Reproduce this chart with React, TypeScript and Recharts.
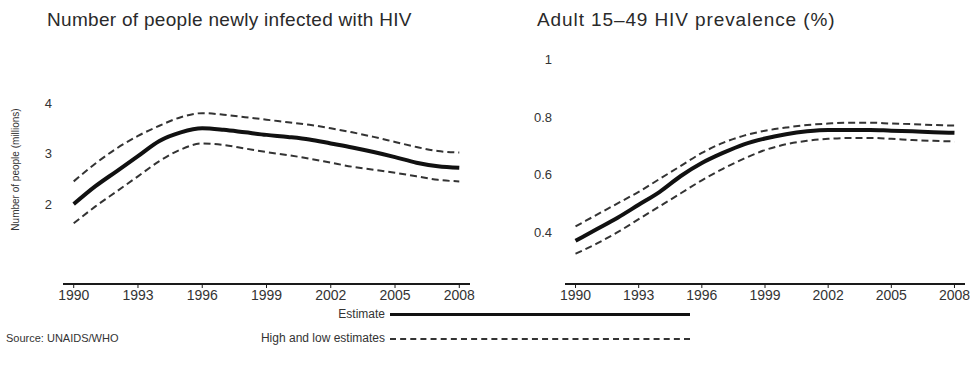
import React from 'react';
import { LineChart, Line, XAxis, YAxis, Label } from 'recharts';

// years shown on both panels
const years = [1990, 1991, 1992, 1993, 1994, 1995, 1996, 1997, 1998, 1999, 2000, 2001, 2002, 2003, 2004, 2005, 2006, 2007, 2008];
const yearTicks = [1990, 1993, 1996, 1999, 2002, 2005, 2008];

// new HIV infections (millions)
const infEstimate = [2.0, 2.35, 2.65, 2.95, 3.25, 3.42, 3.5, 3.47, 3.42, 3.37, 3.33, 3.28, 3.2, 3.12, 3.03, 2.93, 2.82, 2.75, 2.72];
const infHigh = [2.45, 2.8, 3.1, 3.35, 3.55, 3.72, 3.8, 3.77, 3.72, 3.67, 3.62, 3.57, 3.5, 3.42, 3.33, 3.23, 3.13, 3.05, 3.02];
const infLow = [1.62, 1.95, 2.25, 2.55, 2.85, 3.08, 3.2, 3.17, 3.1, 3.03, 2.97, 2.9, 2.82, 2.74, 2.68, 2.62, 2.55, 2.48, 2.45];
const infTicks = [2, 3, 4];

// adult 15-49 prevalence (%)
const prevEstimate = [0.37, 0.41, 0.45, 0.495, 0.54, 0.595, 0.64, 0.675, 0.705, 0.725, 0.74, 0.75, 0.755, 0.755, 0.755, 0.752, 0.75, 0.747, 0.745];
const prevHigh = [0.42, 0.46, 0.5, 0.54, 0.585, 0.63, 0.675, 0.71, 0.735, 0.752, 0.763, 0.772, 0.777, 0.78, 0.78, 0.777, 0.775, 0.772, 0.77];
const prevLow = [0.325, 0.36, 0.4, 0.445, 0.49, 0.535, 0.58, 0.62, 0.655, 0.685, 0.705, 0.717, 0.724, 0.727, 0.727, 0.724, 0.72, 0.717, 0.715];
const prevTicks = [0.4, 0.6, 0.8, 1];

const infData = years.map((y, i) => ({ year: y, est: infEstimate[i], high: infHigh[i], low: infLow[i] }));
const prevData = years.map((y, i) => ({ year: y, est: prevEstimate[i], high: prevHigh[i], low: prevLow[i] }));

const font = '"Liberation Sans", Arial, sans-serif';
const ink = '#1a1a1a';

const Panel = ({ data, width, yWidth, rightPad, domain, ticks, fmt, tickMargin, yLabel }: any) => (
  <LineChart width={width} height={366} data={data} margin={{ top: 55, right: rightPad, bottom: 54, left: 0 }}>
    <XAxis
      dataKey="year"
      type="number"
      domain={[1989.5, 2008.5]}
      ticks={yearTicks}
      height={28}
      axisLine={{ stroke: ink, strokeWidth: 2 }}
      tickLine={{ stroke: ink }}
      tickSize={4}
      tickMargin={2}
      tick={{ fill: '#333', fontSize: 14, fontFamily: font }}
    />
    <YAxis
      type="number"
      domain={domain}
      ticks={ticks}
      width={yWidth}
      axisLine={false}
      tickLine={false}
      tickMargin={tickMargin}
      tickFormatter={fmt}
      tick={{ fill: '#333', fontSize: 13, fontFamily: font }}
    >
      {yLabel && (
        <Label value={yLabel} angle={-90} position="insideLeft" offset={15} style={{ fill: '#333', fontSize: 10, fontFamily: font, textAnchor: 'middle' }} />
      )}
    </YAxis>
    <Line type="monotone" dataKey="high" stroke="#333" strokeWidth={2} strokeDasharray="7 4" dot={false} isAnimationActive={false} />
    <Line type="monotone" dataKey="low" stroke="#333" strokeWidth={2} strokeDasharray="7 4" dot={false} isAnimationActive={false} />
    <Line type="monotone" dataKey="est" stroke="#111" strokeWidth={4} dot={false} isAnimationActive={false} />
  </LineChart>
);

const titleStyle: React.CSSProperties = {
  position: 'absolute',
  top: 9,
  fontFamily: font,
  fontSize: 19,
  letterSpacing: 0.3,
  color: '#2a2a2a',
  whiteSpace: 'nowrap',
};

const legendText: React.CSSProperties = {
  position: 'absolute',
  fontFamily: font,
  fontSize: 12,
  color: '#333',
  whiteSpace: 'nowrap',
};

export default function App() {
  return (
    <div style={{ position: 'absolute', left: 0, top: 0, width: 971, height: 366, background: '#fff', overflow: 'hidden' }}>
      <div style={{ position: 'absolute', left: 0, top: 0 }}>
        <Panel
          data={infData}
          width={490}
          yWidth={63}
          rightPad={20}
          domain={[0.42, 4.95]}
          ticks={infTicks}
          fmt={(v: number) => String(v)}
          tickMargin={5}
          yLabel="Number of people (millions)"
        />
      </div>
      <div style={{ position: 'absolute', left: 490, top: 0 }}>
        <Panel
          data={prevData}
          width={481}
          yWidth={75}
          rightPad={6}
          domain={[0.22, 1.015]}
          ticks={prevTicks}
          fmt={(v: number) => (v === 1 ? '1' : v.toFixed(1))}
          tickMargin={7}
        />
      </div>
      <div style={{ ...titleStyle, left: 47 }}>Number of people newly infected with HIV</div>
      <div style={{ ...titleStyle, left: 537, letterSpacing: 0.9 }}>Adult 15–49 HIV prevalence (%)</div>

      {/* legend */}
      <div style={{ ...legendText, top: 307, right: 971 - 385 }}>Estimate</div>
      <div style={{ position: 'absolute', left: 390, top: 313, width: 300, height: 0, borderTop: '3px solid #111' }} />
      <div style={{ ...legendText, top: 331, right: 971 - 385 }}>High and low estimates</div>
      <div style={{ position: 'absolute', left: 390, top: 338, width: 300, height: 0, borderTop: '2px dashed #333' }} />

      <div style={{ ...legendText, top: 332, left: 6, fontSize: 11 }}>Source: UNAIDS/WHO</div>
    </div>
  );
}
